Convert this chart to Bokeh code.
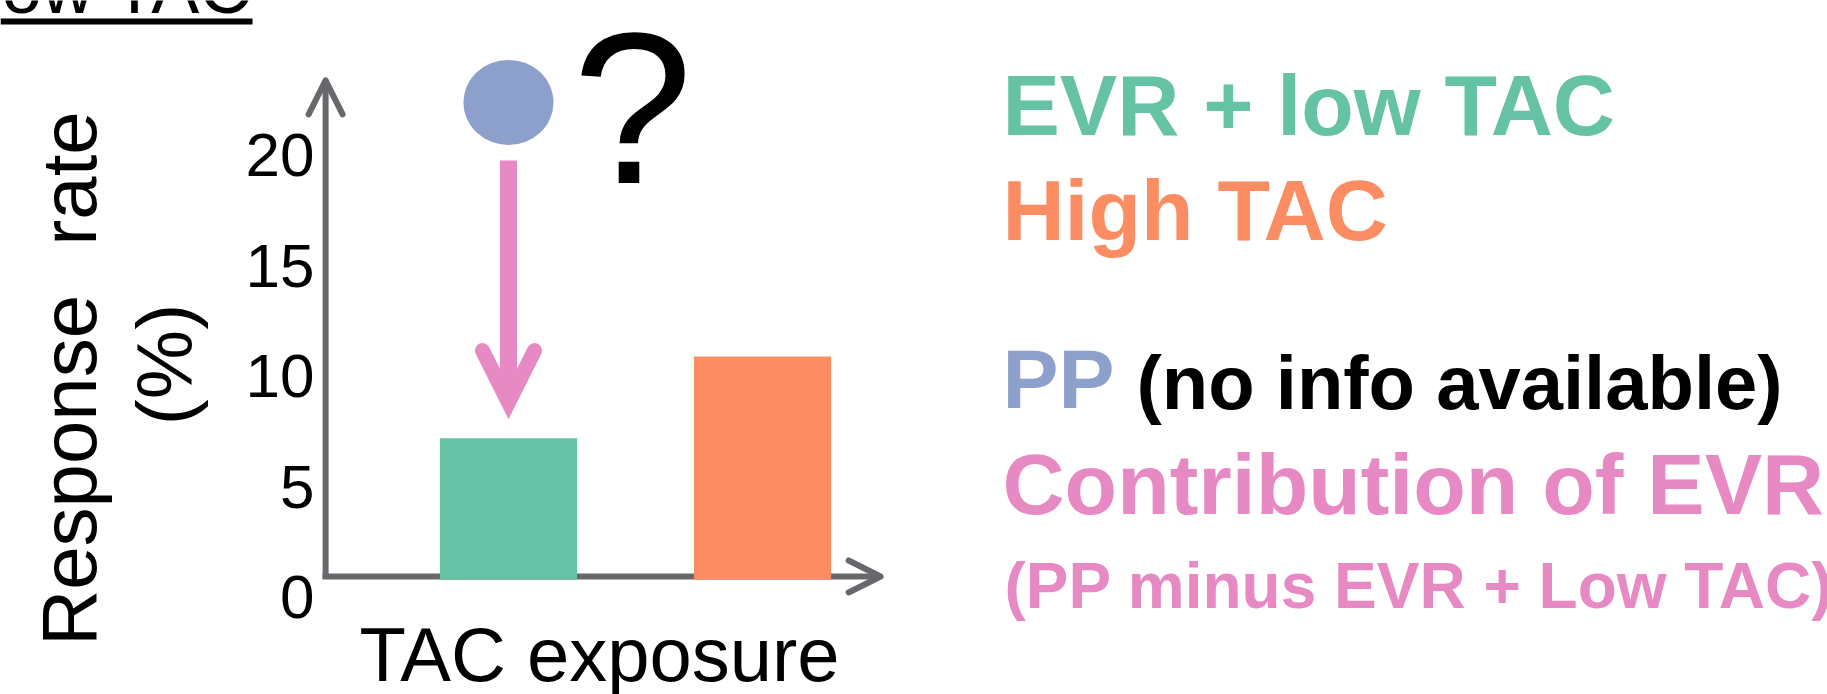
from bokeh.plotting import figure
from bokeh.models import Range1d, Arrow, OpenHead
from bokeh.core.properties import value
from bokeh.embed import file_html
from bokeh.resources import INLINE

# ---- data -------------------------------------------------------------
groups = ["EVR + low TAC", "High TAC"]
group_x = [1, 2]
response_rate = [7.2, 10.9]          # % responders per group
bar_colors = ["#66c2a5", "#fc8d62"]
pp_rate = 22.4                       # PP: no info available, drawn schematically
y_ticks = [0, 5, 10, 15, 20]
y_tick_labels = ["0", "5", "10", "15", "20"]

GREEN, ORANGE, BLUE, PINK = "#66c2a5", "#fc8d62", "#8da0cb", "#e78ac3"
AXIS = "#69666c"
FONT = value("Liberation Sans")
MID = 0.3465       # height of the em-box middle above the baseline, in em

# ---- canvas / ranges --------------------------------------------------
W, H = 1827, 694
X_START, X_END = -1.0, 6.193
Y_START, Y_END = -4.39, 27.01


def at_x(px):
    return X_START + px / W * (X_END - X_START)


def at_y(py):
    return Y_END - py / H * (Y_END - Y_START)


p = figure(width=W, height=H, output_backend="svg", toolbar_location=None,
           x_range=Range1d(X_START, X_END), y_range=Range1d(Y_START, Y_END),
           x_axis_type=None, y_axis_type=None, min_border=0,
           outline_line_color=None, background_fill_color="white",
           border_fill_color="white")
p.grid.visible = False


def label(px, py, text, size, color="black", bold=False, align="left"):
    """Horizontal text whose baseline sits at canvas row py."""
    p.text(x=[at_x(px)], y=[at_y(py - MID * size)], text=[text],
           text_font=FONT, text_font_size=f"{size}px",
           text_font_style="bold" if bold else "normal",
           text_color=color, text_align=align, text_baseline="middle")


def vlabel(px, py, text, size, color="black"):
    """Text reading bottom-to-top, baseline at canvas column px, centred on py."""
    p.text(x=[at_x(px - MID * size)], y=[at_y(py)], text=[text], angle=1.5708,
           text_font=FONT, text_font_size=f"{size}px",
           text_color=color, text_align="center", text_baseline="middle")


# ---- hand-drawn style axes with arrow heads ---------------------------
axis_x = 0.28      # where the vertical axis stands
base_y = 0.95      # where the horizontal axis runs
p.add_layout(Arrow(x_start=axis_x, y_start=0.86, x_end=axis_x, y_end=23.4,
                   line_width=6, line_color=AXIS, level="underlay",
                   end=OpenHead(size=34, line_width=6, line_color=AXIS,
                                line_cap="round", line_join="round")))
p.add_layout(Arrow(x_start=axis_x - 0.012, y_start=base_y, x_end=2.465, y_end=base_y,
                   line_width=6, line_color=AXIS, level="underlay",
                   end=OpenHead(size=32, line_width=6, line_color=AXIS,
                                line_cap="round", line_join="round")))

# tick labels
p.text(x=[at_x(314)] * len(y_ticks), y=y_ticks, text=y_tick_labels,
       text_font=FONT, text_font_size="62px", text_color="black",
       text_align="right", text_baseline="middle")

# ---- bars -------------------------------------------------------------
p.vbar(x=group_x, top=response_rate, bottom=0.8, width=0.54,
       fill_color=bar_colors, line_color=None)

# ---- PP point and contribution arrow ----------------------------------
p.ellipse(x=[group_x[0]], y=[pp_rate], width=90, height=85,
          width_units="screen", height_units="screen",
          fill_color=BLUE, line_color=None)
p.add_layout(Arrow(x_start=group_x[0], y_start=pp_rate - 2.63,
                   x_end=group_x[0], y_end=response_rate[0] + 1.62,
                   line_width=17, line_color=PINK,
                   end=OpenHead(size=52, line_width=15, line_color=PINK,
                                line_cap="round", line_join="miter")))
label(632, 182, "?", 216, align="center")

# ---- axis titles and heading ------------------------------------------
label(252, 12, "EVR + low TAC", 72, align="right")
p.segment(x0=[at_x(0)], y0=[at_y(21)], x1=[at_x(252)], y1=[at_y(21)],
          line_width=6, line_color="black")
vlabel(96, 470, "Response", 78)
vlabel(96, 178, "rate", 78)
vlabel(192, 364, "(%)", 78)
label(599, 680, "TAC exposure", 76, align="center")

# ---- key --------------------------------------------------------------
label(1002, 134, "EVR + low TAC", 86, GREEN, bold=True)
label(1002, 239, "High TAC", 86, ORANGE, bold=True)
label(1002, 408, "PP", 84, BLUE, bold=True)
label(1136, 408, "(no info available)", 76, "black", bold=True)
label(1002, 513, "Contribution of EVR", 86, PINK, bold=True)
label(1004, 608, "(PP minus EVR + Low TAC)", 64, PINK, bold=True)

open("out.html", "w").write(file_html(p, INLINE))
